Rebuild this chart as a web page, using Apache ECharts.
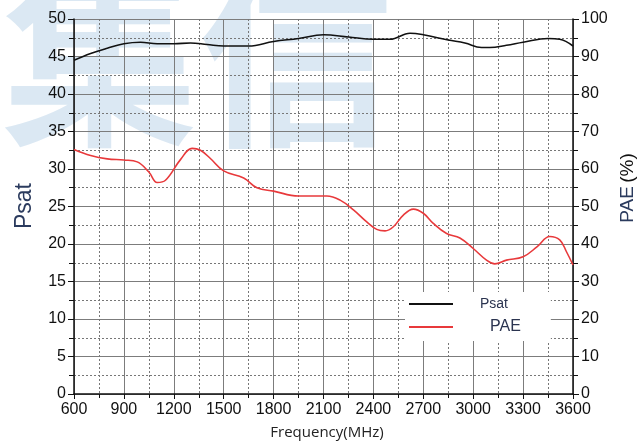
<!DOCTYPE html>
<html>
<head>
<meta charset="utf-8">
<script src="https://cdn.jsdelivr.net/npm/echarts@6/dist/echarts.min.js"></script>
<style>html,body{margin:0;padding:0;background:#fff}#c{width:641px;height:443px}</style>
</head>
<body>
<div id="c"></div>
<script>
// Frequency (MHz) and Psat (left axis)
const psatFreq = [600,700,800,900,1000,1100,1200,1300,1400,1500,1650,1800,1950,2100,2250,2400,2500,2620,2700,2850,2950,3050,3100,3200,3300,3450,3520,3600];
const psatVals = [44.5,45.4,46.1,46.7,46.9,46.7,46.7,46.8,46.6,46.4,46.4,47.0,47.4,47.9,47.6,47.3,47.3,48.1,47.9,47.2,46.8,46.2,46.2,46.5,46.9,47.4,47.3,46.4];
// Frequency (MHz) and PAE % (right axis)
const paeFreq = [600,700,800,900,980,1050,1100,1150,1240,1310,1360,1420,1500,1620,1700,1800,1950,2120,2200,2280,2360,2420,2470,2520,2580,2640,2700,2760,2840,2920,3000,3080,3130,3200,3300,3385,3460,3520,3560,3600];
const paeVals = [65.2,63.6,62.7,62.4,61.9,59.2,56.4,57.0,62.5,65.5,65.0,62.8,59.5,57.6,55.0,54.1,52.8,52.8,51.7,49.1,45.9,43.9,43.5,44.6,47.7,49.3,48.2,45.5,42.8,41.6,38.8,35.7,34.7,35.7,36.6,39.3,42.0,41.1,38.0,34.4];
const xTicks = [600,900,1200,1500,1800,2100,2400,2700,3000,3300,3600];
const leftTicks = [0,5,10,15,20,25,30,35,40,45,50];
const rightTicks = [0,10,20,30,40,50,60,70,80,90,100];

const chart = echarts.init(document.getElementById('c'));
const gridColor = '#7c7c7c';
const minorColor = '#777';
const labelFont = {color:'#111', fontSize:16, fontFamily:'Liberation Sans, Arial, sans-serif'};
chart.setOption({
  animation:false,
  backgroundColor:'#fff',
  graphic:[
    {type:'text', left:2, top:-42, z:-100, silent:true,
     style:{text:'集信', fontSize:196, fontWeight:'bold', fontFamily:'Noto Sans CJK SC', fill:'#dbe8f3'}},
    {type:'text', x:25, y:206, rotation:Math.PI/2, silent:true,
     style:{text:'Psat', fontSize:23, fontFamily:'Liberation Sans, Arial', fill:'#2b3b5e', textAlign:'center', textVerticalAlign:'middle'}},
    {type:'text', x:628, y:188, rotation:Math.PI/2, silent:true,
     style:{text:'{a|PAE} {b|(%)}', textAlign:'center', textVerticalAlign:'middle',
       rich:{a:{fontSize:19, fontFamily:'Liberation Sans, Arial', fill:'#2b3b5e', color:'#2b3b5e'},
             b:{fontSize:19, fontFamily:'Liberation Sans, Arial', fill:'#111', color:'#111'}}}},
    {type:'text', x:327, y:433, silent:true,
     style:{text:'Frequency(MHz)', fontSize:15, fontFamily:'Open Sans', fill:'#222', textAlign:'center', textVerticalAlign:'middle'}}
  ],
  grid:{left:74, right:68, top:19, bottom:49},
  legend:{
    left:405, top:292, orient:'vertical', backgroundColor:'#fff',
    padding:[5,30,6,4], itemGap:8, itemWidth:44, itemHeight:2, icon:'rect',
    data:['Psat','PAE'],
    formatter:function(n){return n==='Psat' ? '{a|Psat}' : '{b|PAE}';},
    textStyle:{rich:{
      a:{fontSize:14, color:'#2b3450', padding:[0,0,0,22], fontFamily:'Liberation Sans, Arial'},
      b:{fontSize:16, color:'#2b3450', padding:[0,0,0,32], fontFamily:'Liberation Sans, Arial'}}}
  },
  xAxis:{
    type:'value', min:600, max:3600, interval:300,
    axisLine:{show:true, onZero:false, lineStyle:{color:'#111', width:1.5}},
    axisTick:{show:true, inside:false, length:5, lineStyle:{color:'#111'}},
    minorTick:{show:true, splitNumber:2, length:4, lineStyle:{color:'#111'}},
    axisLabel:Object.assign({margin:8, formatter:function(v){return xTicks.indexOf(v)>=0?String(v):'';}}, labelFont),
    splitLine:{show:true, lineStyle:{color:gridColor, width:1}},
    minorSplitLine:{show:true, lineStyle:{color:minorColor, type:[2,2], width:1}}
  },
  yAxis:[{
    type:'value', min:0, max:50, interval:5, position:'left',
    axisLine:{show:true, lineStyle:{color:'#111', width:1.5}},
    axisTick:{show:true, length:6, lineStyle:{color:'#111'}},
    minorTick:{show:true, splitNumber:2, length:5, lineStyle:{color:'#111'}},
    axisLabel:Object.assign({margin:8, formatter:function(v){return leftTicks.indexOf(v)>=0?String(v):'';}}, labelFont),
    splitLine:{show:true, lineStyle:{color:gridColor, width:1}},
    minorSplitLine:{show:true, lineStyle:{color:minorColor, type:[2,2], width:1}}
  },{
    type:'value', min:0, max:100, interval:10, position:'right',
    axisLine:{show:true, lineStyle:{color:'#111', width:1.5}},
    axisTick:{show:true, length:6, lineStyle:{color:'#111'}},
    minorTick:{show:true, splitNumber:2, length:5, lineStyle:{color:'#111'}},
    axisLabel:Object.assign({margin:8, formatter:function(v){return rightTicks.indexOf(v)>=0?String(v):'';}}, labelFont),
    splitLine:{show:false}
  }],
  series:[
    {name:'Psat', type:'line', yAxisIndex:0, smooth:0.4, showSymbol:false,
     data:psatFreq.map(function(f,i){return [f, psatVals[i]];}),
     lineStyle:{color:'#111', width:1.6}, itemStyle:{color:'#111'}},
    {name:'PAE', type:'line', yAxisIndex:1, smooth:0.4, showSymbol:false,
     data:paeFreq.map(function(f,i){return [f, paeVals[i]];}),
     lineStyle:{color:'#e8393b', width:1.6}, itemStyle:{color:'#e8393b'}}
  ]
});
</script>
</body>
</html>
